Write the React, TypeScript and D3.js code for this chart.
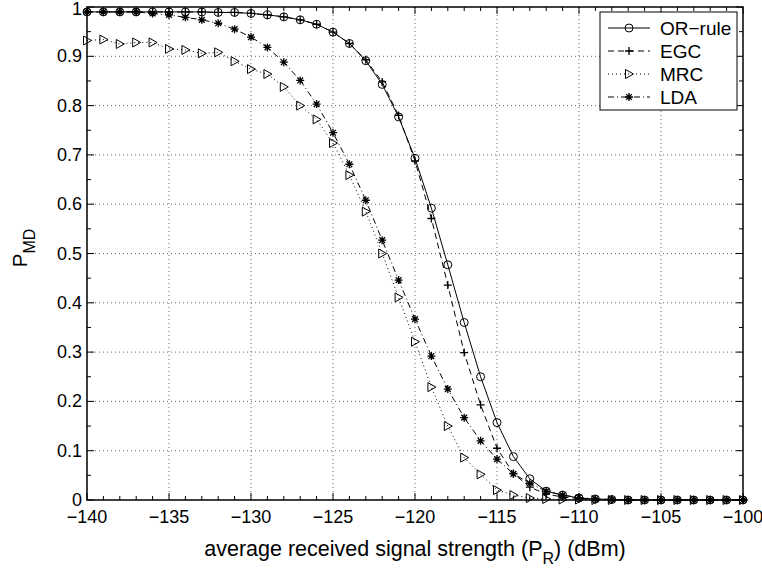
import React from 'react';
import * as d3 from 'd3';

// received power (dBm), one sample per dB
const xValues = [
  -140, -139, -138, -137, -136, -135, -134, -133, -132, -131,
  -130, -129, -128, -127, -126, -125, -124, -123, -122, -121,
  -120, -119, -118, -117, -116, -115, -114, -113, -112, -111,
  -110, -109, -108, -107, -106, -105, -104, -103, -102, -101, -100,
];

const orRule = [
  0.990, 0.990, 0.990, 0.990, 0.990, 0.990, 0.990, 0.990, 0.989, 0.989,
  0.987, 0.984, 0.980, 0.974, 0.965, 0.949, 0.926, 0.891, 0.843, 0.777,
  0.693, 0.592, 0.477, 0.360, 0.250, 0.157, 0.088, 0.043, 0.018, 0.010,
  0.004, 0.002, 0.001, 0, 0, 0, 0, 0, 0, 0, 0,
];

const egc = [
  0.990, 0.990, 0.990, 0.990, 0.990, 0.990, 0.990, 0.990, 0.989, 0.989,
  0.987, 0.984, 0.980, 0.974, 0.965, 0.949, 0.926, 0.893, 0.848, 0.780,
  0.688, 0.571, 0.436, 0.299, 0.193, 0.105, 0.054, 0.026, 0.012, 0.006,
  0.003, 0.001, 0.001, 0, 0, 0, 0, 0, 0, 0, 0,
];

const mrc = [
  0.932, 0.934, 0.925, 0.928, 0.928, 0.915, 0.913, 0.906, 0.908, 0.890,
  0.874, 0.864, 0.838, 0.800, 0.772, 0.724, 0.659, 0.585, 0.500, 0.411,
  0.321, 0.229, 0.150, 0.086, 0.052, 0.020, 0.010, 0.004, 0.002, 0.001,
  0.001, 0, 0, 0, 0, 0, 0, 0, 0, 0, 0,
];

const lda = [
  0.990, 0.990, 0.990, 0.990, 0.987, 0.984, 0.979, 0.974, 0.967, 0.955,
  0.939, 0.918, 0.888, 0.851, 0.803, 0.745, 0.681, 0.608, 0.527, 0.446,
  0.367, 0.292, 0.225, 0.167, 0.120, 0.083, 0.053, 0.034, 0.018, 0.010,
  0.005, 0.002, 0.001, 0, 0, 0, 0, 0, 0, 0, 0,
];

const xTicks = [-140, -135, -130, -125, -120, -115, -110, -105, -100];
const yTicks = [0, 0.1, 0.2, 0.3, 0.4, 0.5, 0.6, 0.7, 0.8, 0.9, 1];

const seriesNames = ['OR\u2212rule', 'EGC', 'MRC', 'LDA'];

const FONT = 'Liberation Sans, Arial, Helvetica, sans-serif';

type MarkerKind = 'circle' | 'plus' | 'triangle' | 'star';

const Marker = ({ kind, x, y }: { kind: MarkerKind; x: number; y: number }) => {
  if (kind === 'circle') {
    return <circle cx={x} cy={y} r={4} fill="none" stroke="#000" strokeWidth={1} />;
  }
  if (kind === 'plus') {
    return (
      <path d={`M${x - 4},${y}H${x + 4}M${x},${y - 4}V${y + 4}`} stroke="#000" strokeWidth={1.3} />
    );
  }
  if (kind === 'triangle') {
    return (
      <path
        d={`M${x - 3.5},${y - 4.5}L${x + 4.5},${y}L${x - 3.5},${y + 4.5}Z`}
        fill="none"
        stroke="#000"
        strokeWidth={1}
      />
    );
  }
  const r = 4;
  const d = r * 0.72;
  return (
    <path
      d={`M${x - r},${y}H${x + r}M${x},${y - r}V${y + r}M${x - d},${y - d}L${x + d},${y + d}M${x - d},${y + d}L${x + d},${y - d}`}
      stroke="#000"
      strokeWidth={1.3}
    />
  );
};

const App = () => {
  const width = 762;
  const height = 571;
  const margin = { top: 7, right: 19, bottom: 71, left: 87 };

  const xScale = d3.scaleLinear().domain([-140, -100]).range([margin.left, width - margin.right]);
  const yScale = d3.scaleLinear().domain([0, 1]).range([height - margin.bottom, margin.top]);

  const x0 = xScale(-140);
  const x1 = xScale(-100);
  const y0 = yScale(0);
  const y1 = yScale(1);

  const series = [
    { name: seriesNames[0], values: orRule, dash: 'none', marker: 'circle' as MarkerKind },
    { name: seriesNames[1], values: egc, dash: '6,4', marker: 'plus' as MarkerKind },
    { name: seriesNames[2], values: mrc, dash: '1,3', marker: 'triangle' as MarkerKind },
    { name: seriesNames[3], values: lda, dash: '6,3,1,3', marker: 'star' as MarkerKind },
  ];

  const line = d3
    .line<number>()
    .x((_, i) => xScale(xValues[i]))
    .y((d) => yScale(d));

  const xMinor = xValues.filter((v) => !xTicks.includes(v));
  const yMinor = yScale.ticks(20).filter((v) => Math.round(v * 100) % 10 !== 0);

  const legend = { x: 600, y: 12, w: 137, h: 98 };

  return (
    <svg
      width={width}
      height={height}
      style={{ position: 'absolute', left: 0, top: 0, background: '#fff' }}
      fontFamily={FONT}
    >
      <rect width={width} height={height} fill="#fff" />

      {/* grid */}
      <g stroke="#444" strokeWidth={0.8} strokeDasharray="1,3">
        {xTicks.slice(1, -1).map((t) => (
          <line key={`gx${t}`} x1={xScale(t)} x2={xScale(t)} y1={y0} y2={y1} />
        ))}
        {yTicks.slice(1, -1).map((t) => (
          <line key={`gy${t}`} x1={x0} x2={x1} y1={yScale(t)} y2={yScale(t)} />
        ))}
      </g>

      {/* ticks on all sides, pointing inward */}
      <g stroke="#000" strokeWidth={1}>
        {xTicks.map((t) => (
          <g key={`tx${t}`}>
            <line x1={xScale(t)} x2={xScale(t)} y1={y0} y2={y0 - 7} />
            <line x1={xScale(t)} x2={xScale(t)} y1={y1} y2={y1 + 7} />
          </g>
        ))}
        {xMinor.map((t) => (
          <g key={`mx${t}`}>
            <line x1={xScale(t)} x2={xScale(t)} y1={y0} y2={y0 - 4} />
            <line x1={xScale(t)} x2={xScale(t)} y1={y1} y2={y1 + 4} />
          </g>
        ))}
        {yTicks.map((t) => (
          <g key={`ty${t}`}>
            <line x1={x0} x2={x0 + 7} y1={yScale(t)} y2={yScale(t)} />
            <line x1={x1} x2={x1 - 7} y1={yScale(t)} y2={yScale(t)} />
          </g>
        ))}
        {yMinor.map((t) => (
          <g key={`my${t}`}>
            <line x1={x0} x2={x0 + 4} y1={yScale(t)} y2={yScale(t)} />
            <line x1={x1} x2={x1 - 4} y1={yScale(t)} y2={yScale(t)} />
          </g>
        ))}
      </g>

      {/* series */}
      {series.map((s) => (
        <g key={s.name}>
          <path
            d={line(s.values) || ''}
            fill="none"
            stroke="#000"
            strokeWidth={1}
            strokeDasharray={s.dash}
          />
          {s.values.map((v, i) => (
            <Marker key={i} kind={s.marker} x={xScale(xValues[i])} y={yScale(v)} />
          ))}
        </g>
      ))}

      {/* axes box */}
      <rect x={x0} y={y1} width={x1 - x0} height={y0 - y1} fill="none" stroke="#000" strokeWidth={1.5} />

      {/* tick labels */}
      <g fontSize={18} fill="#000">
        {xTicks.map((t) => (
          <text key={`lx${t}`} x={xScale(t)} y={y0 + 23} textAnchor="middle">
            {d3.format('d')(t).replace('-', '\u2212')}
          </text>
        ))}
        {yTicks.map((t) => (
          <text key={`ly${t}`} x={x0 - 5} y={yScale(t) + (t === 1 ? 8 : 6)} textAnchor="end">
            {t === 0 || t === 1 ? String(t) : d3.format('.1f')(t)}
          </text>
        ))}
      </g>

      {/* axis titles */}
      <text x={(x0 + x1) / 2} y={556} textAnchor="middle" fontSize={21.5}>
        average received signal strength (P
        <tspan dy={8} fontSize={16}>R</tspan>
        <tspan dy={-8}>) (dBm)</tspan>
      </text>
      <text transform={`translate(27,248) rotate(-90)`} textAnchor="middle" fontSize={20.5}>
        P
        <tspan dy={8} fontSize={16}>MD</tspan>
      </text>

      {/* legend */}
      <g>
        <rect x={legend.x} y={legend.y} width={legend.w} height={legend.h} fill="#fff" stroke="#000" strokeWidth={1} />
        {series.map((s, i) => {
          const ly = legend.y + 16 + i * 23;
          return (
            <g key={`lg${s.name}`}>
              <line
                x1={legend.x + 8}
                x2={legend.x + 50}
                y1={ly}
                y2={ly}
                stroke="#000"
                strokeWidth={1}
                strokeDasharray={s.dash}
              />
              <Marker kind={s.marker} x={legend.x + 29} y={ly} />
              <text x={legend.x + 60} y={ly + 7} fontSize={19}>
                {s.name}
              </text>
            </g>
          );
        })}
      </g>
    </svg>
  );
};

export default App;
